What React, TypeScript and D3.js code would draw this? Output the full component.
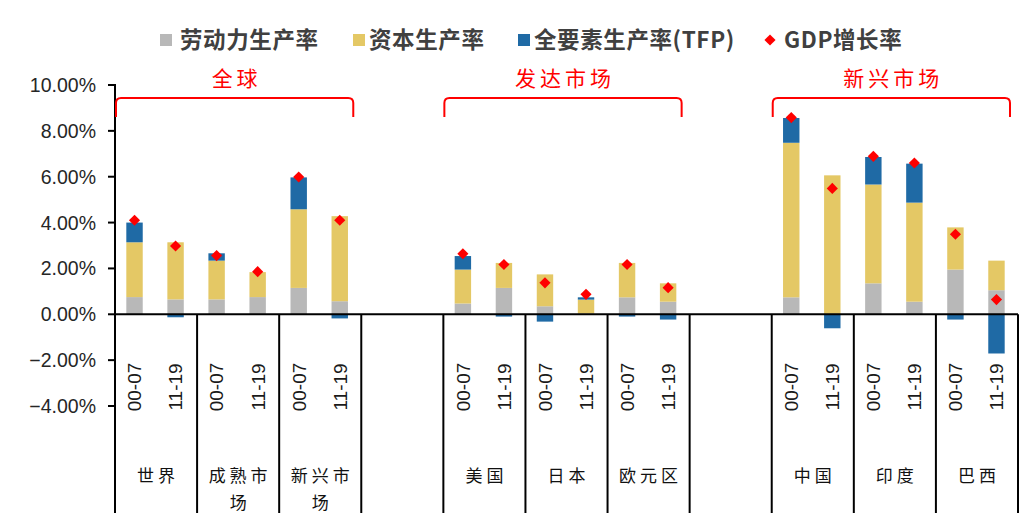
import React from "react";
import * as d3 from "d3";

// Category layout: two blank slots separate the three market blocks
const groupKeys = ["世界", "成熟市场", "新兴市场", "_gap1", "美国", "日本", "欧元区", "_gap2", "中国", "印度", "巴西"];
const periods = ["00-07", "11-19"];
const regions = ["世界", "成熟市场", "新兴市场", "美国", "日本", "欧元区", "中国", "印度", "巴西"];

// Contributions to GDP growth (%), ordered region by region, 00-07 then 11-19
const labor = [0.75, 0.65, 0.65, 0.75, 1.15, 0.57, 0.47, 1.15, 0.35, 0.03, 0.74, 0.55, 0.74, 0.0, 1.35, 0.55, 1.95, 1.05];
const capital = [2.39, 2.49, 1.69, 1.09, 3.43, 3.71, 1.48, 1.09, 1.39, 0.61, 1.5, 0.8, 6.74, 6.06, 4.31, 4.32, 1.84, 1.29];
const tfp = [0.86, -0.13, 0.32, -0.02, 1.39, -0.18, 0.59, -0.1, -0.32, 0.1, -0.1, -0.23, 1.08, -0.61, 1.2, 1.7, -0.23, -1.71];
const gdp = [4.1, 2.98, 2.56, 1.86, 5.99, 4.1, 2.64, 2.17, 1.37, 0.87, 2.17, 1.16, 8.58, 5.49, 6.89, 6.6, 3.49, 0.64];

const yTicks = [-4, -2, 0, 2, 4, 6, 8, 10];

const seriesKeys = ["labor", "capital", "tfp"];
const seriesNames = ["劳动力生产率", "资本生产率", "全要素生产率(TFP)"];
const seriesColors = ["#B8B8B8", "#E4C865", "#1F6AA5"];
const gdpName = "GDP增长率";

const brackets = [
  { label: "全球", from: "世界", to: "新兴市场" },
  { label: "发达市场", from: "美国", to: "欧元区" },
  { label: "新兴市场", from: "中国", to: "巴西" },
];

const W = 1024;
const H = 513;
const axisX = 115;
const right = 1018;

const latin = "'Liberation Sans', Arial, sans-serif";
const cjk = "'Noto Sans CJK SC', sans-serif";

export default function App() {
  const rows = regions.flatMap((r, ri) =>
    periods.map((p, pi) => {
      const i = ri * 2 + pi;
      return { region: r, period: p, labor: labor[i], capital: capital[i], tfp: tfp[i], gdp: gdp[i] };
    })
  );

  const x = d3.scaleBand<string>().domain(groupKeys).range([axisX, right]).padding(0);
  const sub = d3.scaleBand<string>().domain(periods).range([0, x.bandwidth()]).padding(0);
  const barW = sub.bandwidth() * 0.4;
  const cx = (r: string, p: string) => (x(r) as number) + (sub(p) as number) + sub.bandwidth() / 2 - 1;

  const y = d3.scaleLinear().domain([-4, 10]).range([406, 85]);

  const stack = d3
    .stack<any>()
    .keys(seriesKeys)
    .offset(d3.stackOffsetDiverging);
  const stacked = stack(rows);

  const diamond = d3.symbol().type(d3.symbolSquare).size(62)();

  const legendMarkX = [166, 359, 524];
  const legendTextX = [180, 369, 534];

  return (
    <div style={{ position: "absolute", left: 0, top: 0 }}>
      <svg width={W} height={H} style={{ display: "block", background: "#fff" }}>
        {/* legend */}
        <g>
          {seriesNames.map((n, i) => (
            <g key={n}>
              <rect x={legendMarkX[i] - 6} y={34} width={12} height={12} fill={seriesColors[i]} />
              <text x={legendTextX[i]} y={48} fontFamily={cjk} fontWeight="bold" fontSize={22.5} letterSpacing={0.6} fill="#404040">
                {n}
              </text>
            </g>
          ))}
          <path d={diamond} transform="translate(770,40) rotate(45)" fill="#FF0000" />
          <text x={784} y={48} fontFamily={cjk} fontWeight="bold" fontSize={22.5} letterSpacing={0.6} fill="#404040">
            {gdpName}
          </text>
        </g>

        {/* bars */}
        {stacked.map((s, si) => (
          <g key={s.key} fill={seriesColors[si]}>
            {s.map((d, di) => {
              const r = rows[di];
              const y0 = y(d[0]);
              const y1 = y(d[1]);
              const h = Math.abs(y0 - y1);
              if (h < 0.01) return null;
              return (
                <rect
                  key={di}
                  x={cx(r.region, r.period) - barW / 2}
                  y={Math.min(y0, y1)}
                  width={barW}
                  height={h}
                />
              );
            })}
          </g>
        ))}

        {/* GDP growth markers */}
        {rows.map((r, i) => (
          <path
            key={i}
            d={diamond}
            transform={`translate(${cx(r.region, r.period)},${y(r.gdp)}) rotate(45)`}
            fill="#FF0000"
          />
        ))}

        {/* y axis */}
        <g stroke="#000" strokeWidth={2}>
          <line x1={axisX} x2={axisX} y1={y(10) - 1} y2={H} />
          {yTicks.map((t) => (
            <line key={t} x1={axisX - 7} x2={axisX} y1={y(t)} y2={y(t)} />
          ))}
        </g>
        {yTicks.map((t) => (
          <text
            key={t}
            x={96}
            y={y(t)}
            dy="0.36em"
            textAnchor="end"
            fontFamily={latin}
            fontSize={19.5}
            fill="#262626"
          >
            {d3.format(".2f")(t) + "%"}
          </text>
        ))}

        {/* category axis: zero line and group separators */}
        <g stroke="#000" strokeWidth={2}>
          <line x1={axisX} x2={right} y1={y(0)} y2={y(0)} />
          {groupKeys.map((g) => (
            <line key={g} x1={(x(g) as number) + x.bandwidth()} x2={(x(g) as number) + x.bandwidth()} y1={y(0)} y2={H} />
          ))}
        </g>

        {/* period labels */}
        {rows.map((r, i) => (
          <text
            key={i}
            transform={`translate(${cx(r.region, r.period)},387) rotate(-90)`}
            dy="0.36em"
            textAnchor="middle"
            fontFamily={latin}
            fontSize={19}
            fill="#1a1a1a"
          >
            {r.period}
          </text>
        ))}

        {/* region labels */}
        {groupKeys
          .filter((g) => !g.startsWith("_"))
          .map((g) => {
            const lines = g.length > 3 ? [g.slice(0, 3), g.slice(3)] : [g];
            const c = (x(g) as number) + x.bandwidth() / 2;
            return (
              <text
                key={g}
                textAnchor="middle"
                fontFamily={cjk}
                fontSize={17}
                letterSpacing={4}
                fill="#111"
              >
                {lines.map((l, li) => (
                  <tspan key={li} x={c + 2} y={482 + li * 27}>
                    {l}
                  </tspan>
                ))}
              </text>
            );
          })}

        {/* market block brackets */}
        {brackets.map((b) => {
          const x0 = (x(b.from) as number) + 1;
          const x1 = (x(b.to) as number) + x.bandwidth() - 8;
          const top = 98;
          const bottom = 117;
          const rr = 5;
          const d = `M${x0},${bottom} L${x0},${top + rr} Q${x0},${top} ${x0 + rr},${top} L${x1 - rr},${top} Q${x1},${top} ${x1},${top + rr} L${x1},${bottom}`;
          return (
            <g key={b.label}>
              <path d={d} fill="none" stroke="#FF0000" strokeWidth={2} />
              <text
                x={(x0 + x1) / 2 + 2}
                y={86}
                textAnchor="middle"
                fontFamily={cjk}
                fontSize={21}
                letterSpacing={4}
                fill="#FF0000"
              >
                {b.label}
              </text>
            </g>
          );
        })}
      </svg>
    </div>
  );
}
